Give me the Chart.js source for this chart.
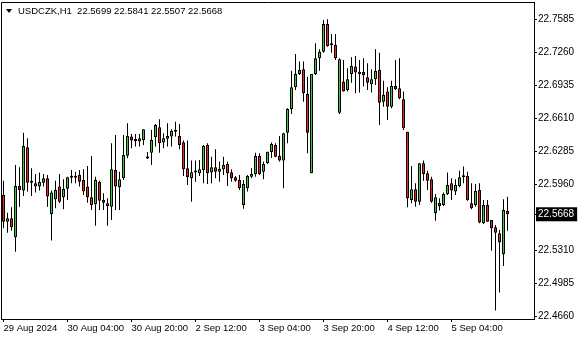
<!DOCTYPE html>
<html>
<head>
<meta charset="utf-8">
<script src="https://cdn.jsdelivr.net/npm/chart.js@4"></script>
<style>
html, body { margin: 0; padding: 0; background: #fff; }
#wrap { position: relative; width: 580px; height: 340px; }
#tri { position: absolute; left: 6px; top: 9px; width: 0; height: 0;
       border-left: 3px solid transparent; border-right: 3px solid transparent; border-top: 4px solid #000; }
#hdr { position: absolute; left: 18px; top: 5px; font: 9.5px "Liberation Sans", Arial, sans-serif;
       line-height: 12px; color: #000; white-space: pre; }
</style>
</head>
<body>
<div id="wrap">
  <canvas id="chart" width="580" height="340"></canvas>
  <div id="tri"></div>
  <div id="hdr"></div>
</div>
<script>
// USDCZK, H1 - one value per hourly bar, starting 29 Aug 2024 12:00
const SYMBOL = 'USDCZK,H1';

const open = [
  22.5858, 22.5595, 22.5629, 22.5442, 22.5947, 22.5901, 22.6328, 22.5981, 22.5973, 22.5940,
  22.5979, 22.6023, 22.5668, 22.5816, 22.5940, 22.5836, 22.5920, 22.6028, 22.6045, 22.6055,
  22.6006, 22.5940, 22.5836, 22.5767, 22.5989, 22.5809, 22.5776, 22.5743, 22.6104, 22.5934,
  22.6023, 22.6245, 22.6432, 22.6406, 22.6416, 22.6399, 22.6222, 22.6274, 22.6426, 22.6524,
  22.6373, 22.6412, 22.6432, 22.6485, 22.6439, 22.6377, 22.6121, 22.6023, 22.6078, 22.6072,
  22.6104, 22.6350, 22.6078, 22.6131, 22.6087, 22.6111, 22.6163, 22.6082, 22.6032, 22.6006,
  22.5760, 22.5924, 22.6038, 22.6065, 22.6242, 22.6087, 22.6170, 22.6281, 22.6350, 22.6242,
  22.6196, 22.6471, 22.6701, 22.6918, 22.7049, 22.7095, 22.6852, 22.6072, 22.7049, 22.7203,
  22.7268, 22.7541, 22.7334, 22.7334, 22.6668, 22.6973, 22.6891, 22.7049, 22.7121, 22.7071,
  22.7069, 22.7016, 22.6947, 22.6997, 22.7088, 22.6776, 22.6875, 22.6727, 22.6931, 22.6908,
  22.6800, 22.6481, 22.5809, 22.5914, 22.5792, 22.6170, 22.6072, 22.6013, 22.5678, 22.5782,
  22.5760, 22.5868, 22.5973, 22.5891, 22.5947, 22.6045, 22.6045, 22.5776, 22.5760, 22.5907,
  22.5580, 22.5760, 22.5612, 22.5540, 22.5481, 22.5275, 22.5699
];
const high = [
  22.5999, 22.5684, 22.5737, 22.6153, 22.6131, 22.6471, 22.6416, 22.6121, 22.6065, 22.6078,
  22.6065, 22.6055, 22.5901, 22.5999, 22.6065, 22.6013, 22.6038, 22.6104, 22.6087, 22.6104,
  22.6111, 22.6144, 22.6242, 22.6038, 22.5999, 22.5875, 22.5826, 22.6367, 22.6449, 22.6087,
  22.6449, 22.6564, 22.6458, 22.6458, 22.6458, 22.6505, 22.6281, 22.6498, 22.6557, 22.6603,
  22.6465, 22.6564, 22.6505, 22.6579, 22.6557, 22.6393, 22.6393, 22.6196, 22.6196, 22.6203,
  22.6350, 22.6367, 22.6235, 22.6308, 22.6186, 22.6235, 22.6186, 22.6111, 22.6045, 22.6055,
  22.6006, 22.6055, 22.6121, 22.6274, 22.6269, 22.6186, 22.6284, 22.6373, 22.6367, 22.6439,
  22.6471, 22.6711, 22.7081, 22.7246, 22.7170, 22.7170, 22.7022, 22.7049, 22.7351, 22.7292,
  22.7580, 22.7587, 22.7442, 22.7442, 22.7203, 22.7187, 22.7105, 22.7213, 22.7226, 22.7187,
  22.7203, 22.7154, 22.7095, 22.7292, 22.7258, 22.6983, 22.6918, 22.6983, 22.7187, 22.7203,
  22.6875, 22.6481, 22.6144, 22.5973, 22.6170, 22.6196, 22.6097, 22.6038, 22.5868, 22.5826,
  22.5881, 22.6078, 22.6023, 22.6013, 22.6097, 22.6137, 22.6087, 22.5973, 22.5966, 22.5973,
  22.5809, 22.5809, 22.5612, 22.5563, 22.5514, 22.5816, 22.5841
];
const low = [
  22.5531, 22.5487, 22.5507, 22.5300, 22.5743, 22.5848, 22.5891, 22.5848, 22.5881, 22.5901,
  22.5940, 22.5743, 22.5409, 22.5727, 22.5779, 22.5717, 22.5809, 22.5973, 22.5973, 22.5940,
  22.5858, 22.5782, 22.5711, 22.5556, 22.5711, 22.5711, 22.5556, 22.5612, 22.5711, 22.5711,
  22.6006, 22.6219, 22.6318, 22.6334, 22.6334, 22.6350, 22.6212, 22.6153, 22.6334, 22.6274,
  22.6318, 22.6334, 22.6334, 22.6432, 22.6308, 22.6045, 22.5957, 22.5792, 22.5989, 22.6045,
  22.5973, 22.5966, 22.5973, 22.6023, 22.5989, 22.6055, 22.5947, 22.5989, 22.5989, 22.5907,
  22.5723, 22.5891, 22.6023, 22.6038, 22.6055, 22.6013, 22.6163, 22.6222, 22.6229, 22.6186,
  22.5924, 22.6367, 22.6655, 22.6891, 22.7039, 22.6776, 22.6269, 22.6072, 22.7039, 22.7081,
  22.7258, 22.7317, 22.7258, 22.7187, 22.6655, 22.6875, 22.6875, 22.6963, 22.6859, 22.6865,
  22.6924, 22.6891, 22.6865, 22.6941, 22.6547, 22.6727, 22.6596, 22.6711, 22.6891, 22.6800,
  22.6498, 22.5737, 22.5776, 22.5743, 22.5760, 22.5999, 22.5907, 22.5782, 22.5605, 22.5704,
  22.5750, 22.5858, 22.5809, 22.5858, 22.5934, 22.5973, 22.5802, 22.5717, 22.5743, 22.5580,
  22.5573, 22.5595, 22.5310, 22.4720, 22.4897, 22.5160, 22.5507
];
const close = [
  22.5595, 22.5629, 22.5540, 22.5947, 22.5907, 22.6340, 22.5979, 22.5979, 22.5940, 22.5986,
  22.6023, 22.5842, 22.5881, 22.5907, 22.5792, 22.5917, 22.6032, 22.6045, 22.6028, 22.5989,
  22.5891, 22.5836, 22.5760, 22.6006, 22.5802, 22.5782, 22.5750, 22.6111, 22.5940, 22.6013,
  22.6252, 22.6439, 22.6393, 22.6390, 22.6383, 22.6505, 22.6217, 22.6399, 22.6547, 22.6367,
  22.6416, 22.6439, 22.6491, 22.6481, 22.6350, 22.6111, 22.6032, 22.6082, 22.6097, 22.6111,
  22.6340, 22.6072, 22.6131, 22.6087, 22.6117, 22.6153, 22.6072, 22.6023, 22.5999, 22.5924,
  22.5966, 22.6045, 22.6065, 22.6242, 22.6065, 22.6163, 22.6284, 22.6360, 22.6235, 22.6196,
  22.6465, 22.6704, 22.6918, 22.7049, 22.7088, 22.6859, 22.6471, 22.7049, 22.7203, 22.7268,
  22.7541, 22.7324, 22.7331, 22.7203, 22.7193, 22.6875, 22.6997, 22.7128, 22.7062, 22.7046,
  22.7036, 22.6963, 22.6997, 22.7078, 22.6766, 22.6842, 22.6727, 22.6931, 22.6898, 22.6810,
  22.6515, 22.5826, 22.5914, 22.5792, 22.6170, 22.6065, 22.5999, 22.5792, 22.5836, 22.5750,
  22.5868, 22.5957, 22.5901, 22.5957, 22.6032, 22.6032, 22.5809, 22.5727, 22.5898, 22.5586,
  22.5760, 22.5595, 22.5531, 22.5487, 22.5389, 22.5711, 22.5668
];

// axis labels
const timeTicks = [0, 16, 32, 48, 64, 80, 96, 112];
const timeLabels = ['29 Aug 2024', '30 Aug 04:00', '30 Aug 20:00', '2 Sep 12:00',
                    '3 Sep 04:00', '3 Sep 20:00', '4 Sep 12:00', '5 Sep 04:00'];
const priceTicks = [22.4660, 22.4985, 22.5310, 22.5960, 22.6285, 22.6610, 22.6935, 22.7260, 22.7585];

const last = close.length - 1;
const lastPrice = close[last];

document.getElementById('hdr').textContent = SYMBOL + '  ' +
  [open[last], high[last], low[last], close[last]].map(v => v.toFixed(4)).join(' ');

const UP = '#3cc83c';
const DOWN = '#f02222';

const bodies = [], wicks = [], bodyColors = [];
for (let i = 0; i < close.length; i++) {
  bodies.push({ x: i, y: [open[i], close[i]] });
  wicks.push({ x: i, y: [low[i], high[i]] });
  bodyColors.push(close[i] > open[i] ? UP : DOWN);
}

// frame: top and left lines of the price window
const framePlugin = {
  id: 'frame',
  afterDraw(chart) {
    const a = chart.chartArea, c = chart.ctx;
    c.save();
    c.strokeStyle = '#000';
    c.lineWidth = 1;
    c.beginPath();
    c.moveTo(a.left + 0.5, a.bottom);
    c.lineTo(a.left + 0.5, a.top + 0.5);
    c.lineTo(a.right, a.top + 0.5);
    c.stroke();
    c.restore();
  }
};

Chart.defaults.font.family = '"Liberation Sans", Arial, sans-serif';
Chart.defaults.color = '#000';

new Chart(document.getElementById('chart'), {
  type: 'bar',
  data: {
    datasets: [{
      label: 'body',
      data: bodies,
      order: 0,
      grouped: false,
      barThickness: 3,
      minBarLength: 2,
      backgroundColor: bodyColors,
      borderColor: '#000',
      borderWidth: 1,
      borderSkipped: false,
      inflateAmount: 0
    }, {
      label: 'wick',
      data: wicks,
      order: 1,
      grouped: false,
      barThickness: 1,
      minBarLength: 1,
      backgroundColor: '#000',
      borderWidth: 0,
      inflateAmount: 0
    }]
  },
  options: {
    responsive: false,
    animation: false,
    layout: { padding: { left: 1, top: 2, right: 0, bottom: 0 } },
    plugins: { legend: { display: false }, tooltip: { enabled: false } },
    scales: {
      x: {
        type: 'linear',
        min: -0.625,
        max: 132.625,
        offset: false,
        grid: { drawOnChartArea: false, drawTicks: true, tickLength: 3, color: '#000', offset: false },
        border: { display: true, color: '#000' },
        afterBuildTicks: s => { s.ticks = timeTicks.map(v => ({ value: v })); },
        afterFit: s => { s.height = 21; s.paddingLeft = 0; s.paddingRight = 0; },
        ticks: {
          autoSkip: false,
          maxRotation: 0,
          align: 'start',
          padding: 1,
          font: { size: 9.5 },
          callback: v => timeLabels[timeTicks.indexOf(v)]
        }
      },
      y: {
        position: 'right',
        min: 22.46374,
        max: 22.77567,
        bounds: 'data',
        grid: { drawOnChartArea: false, drawTicks: true, tickLength: 3, color: '#000' },
        border: { display: true, color: '#000' },
        afterBuildTicks: s => {
          s.ticks = priceTicks.concat([lastPrice]).map(v => ({ value: v }));
        },
        afterFit: s => { s.width = 46; s.paddingTop = 0; s.paddingBottom = 0; },
        ticks: {
          autoSkip: false,
          padding: 1,
          font: { size: 10 },
          color: c => (c.tick && c.tick.value === lastPrice ? '#fff' : '#000'),
          showLabelBackdrop: c => !!(c.tick && c.tick.value === lastPrice),
          backdropColor: '#000',
          backdropPadding: { top: 1, bottom: 1, left: 2, right: 3 },
          callback: v => v.toFixed(4)
        }
      }
    }
  },
  plugins: [framePlugin]
});
</script>
</body>
</html>
